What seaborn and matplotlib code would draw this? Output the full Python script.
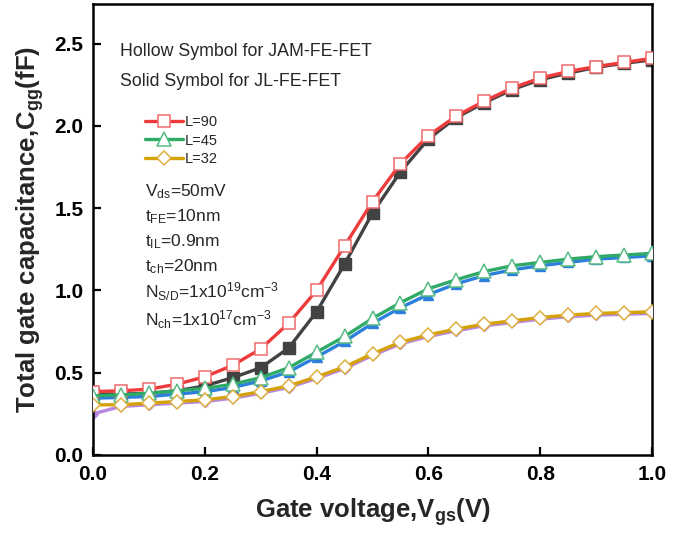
import numpy as np
import pandas as pd
import matplotlib
matplotlib.use("Agg")
import matplotlib.pyplot as plt
import seaborn as sns
from matplotlib.lines import Line2D

vgs = [0.00, 0.05, 0.10, 0.15, 0.20, 0.25, 0.30, 0.35, 0.40, 0.45, 0.50,
       0.55, 0.60, 0.65, 0.70, 0.75, 0.80, 0.85, 0.90, 0.95, 1.00]

# JAM-FE-FET (hollow symbols)
jam_L90 = [0.385, 0.39, 0.40, 0.43, 0.475, 0.545, 0.645, 0.80, 1.00, 1.27, 1.54,
           1.77, 1.94, 2.06, 2.15, 2.23, 2.29, 2.33, 2.36, 2.385, 2.41]
jam_L45 = [0.36, 0.365, 0.375, 0.39, 0.405, 0.43, 0.47, 0.53, 0.625, 0.72, 0.83,
           0.925, 1.01, 1.065, 1.115, 1.15, 1.17, 1.19, 1.205, 1.215, 1.225]
jam_L32 = [0.305, 0.305, 0.315, 0.325, 0.335, 0.355, 0.385, 0.42, 0.475, 0.535, 0.615,
           0.685, 0.73, 0.765, 0.795, 0.815, 0.835, 0.85, 0.86, 0.865, 0.87]

# JL-FE-FET (solid symbols)
jl_L90 = [0.37, 0.37, 0.375, 0.39, 0.42, 0.47, 0.53, 0.65, 0.87, 1.16, 1.47,
          1.72, 1.92, 2.05, 2.14, 2.22, 2.28, 2.32, 2.355, 2.38, 2.40]
jl_L45 = [0.345, 0.35, 0.355, 0.37, 0.385, 0.41, 0.45, 0.505, 0.595, 0.69, 0.80,
          0.895, 0.975, 1.04, 1.09, 1.125, 1.15, 1.17, 1.19, 1.20, 1.21]
jl_L32 = [0.25, 0.295, 0.305, 0.315, 0.325, 0.345, 0.375, 0.41, 0.465, 0.525, 0.605,
          0.675, 0.72, 0.755, 0.785, 0.805, 0.825, 0.84, 0.85, 0.855, 0.86]

legend_labels = ["L=90", "L=45", "L=32"]
param_texts = [r"V$_{ds}$=50mV", r"t$_{FE}$=10nm", r"t$_{IL}$=0.9nm",
               r"t$_{ch}$=20nm", r"N$_{S/D}$=1x10$^{19}$cm$^{-3}$",
               r"N$_{ch}$=1x10$^{17}$cm$^{-3}$"]

sns.set_theme(style="ticks")
plt.rcParams["font.family"] = ["Liberation Sans", "DejaVu Sans"]
plt.rcParams["mathtext.default"] = "regular"

W, H = 687, 538
fig = plt.figure(figsize=(W / 100, H / 100), dpi=100)
ax = fig.add_axes([93 / W, 1 - 455 / H, (652 - 93) / W, (455 - 4) / H])

lw = 2.4
solid = [
    (jl_L90, "#424242", "s", 9),
    (jl_L45, "#2c7fdc", "^", 7),
    (jl_L32, "#b888e0", "D", 5.5),
]
hollow = [
    (jam_L90, "#ee3b3b", "#f06a6a", "s", 9),
    (jam_L45, "#2eaa66", "#55bb85", "^", 9.5),
    (jam_L32, "#d4a106", "#deb040", "D", 7.5),
]

for vals, col, mk, ms in solid:
    df = pd.DataFrame({"V": vgs, "C": vals})
    sns.lineplot(data=df, x="V", y="C", ax=ax, color=col, linewidth=lw,
                 marker=mk, markersize=ms, markerfacecolor=col,
                 markeredgecolor=col, markeredgewidth=1.0, zorder=2)

for vals, col, ecol, mk, ms in hollow:
    df = pd.DataFrame({"V": vgs, "C": vals})
    sns.lineplot(data=df, x="V", y="C", ax=ax, color=col, linewidth=lw,
                 marker=mk, markersize=ms, markerfacecolor="white",
                 markeredgecolor=ecol, markeredgewidth=1.1, zorder=3)

ax.set_xlim(0, 1.0)
ax.set_ylim(0, 2.74)
ax.set_xticks([0.0, 0.2, 0.4, 0.6, 0.8, 1.0])
ax.set_yticks([0.0, 0.5, 1.0, 1.5, 2.0, 2.5])
ax.set_xticklabels(["0.0", "0.2", "0.4", "0.6", "0.8", "1.0"])
ax.set_yticklabels(["0.0", "0.5", "1.0", "1.5", "2.0", "2.5"])
ax.tick_params(direction="in", length=6, width=1.6, labelsize=15,
               colors="black", pad=7)
for lab in ax.get_xticklabels() + ax.get_yticklabels():
    lab.set_fontweight("bold")
for side in ["left", "bottom", "top", "right"]:
    ax.spines[side].set_visible(True)
    ax.spines[side].set_color("black")
    ax.spines[side].set_linewidth(1.8)

ax.set_xlabel(r"Gate voltage,V$_{gs}$(V)", fontsize=18.5, fontweight="bold", labelpad=9)
ax.set_ylabel(r"Total gate capacitance,C$_{gg}$(fF)", fontsize=18.5, fontweight="bold", labelpad=6)

# annotation texts
fig.text(120 / W, 1 - 52 / H, "Hollow Symbol for JAM-FE-FET", fontsize=12.8, va="center", ha="left")
fig.text(120 / W, 1 - 82 / H, "Solid Symbol for JL-FE-FET", fontsize=12.8, va="center", ha="left")

ys = [192, 217, 242, 267, 292, 320]
for t, y in zip(param_texts, ys):
    fig.text(145 / W, 1 - y / H, t, fontsize=12.5, va="center", ha="left")

handles = [Line2D([], [], color=c, lw=lw, marker=m, markersize=ms,
                  markerfacecolor="white", markeredgecolor=e, markeredgewidth=1.1)
           for (_, c, e, m, ms) in hollow]
leg = ax.legend(handles, legend_labels, loc="upper left",
                bbox_to_anchor=(135 / W, 1 - 105 / H), bbox_transform=fig.transFigure,
                frameon=False, fontsize=10.5, handlelength=2.6, handletextpad=0.1,
                labelspacing=0.3, borderpad=0.2)

fig.savefig("out.png", dpi=100)
